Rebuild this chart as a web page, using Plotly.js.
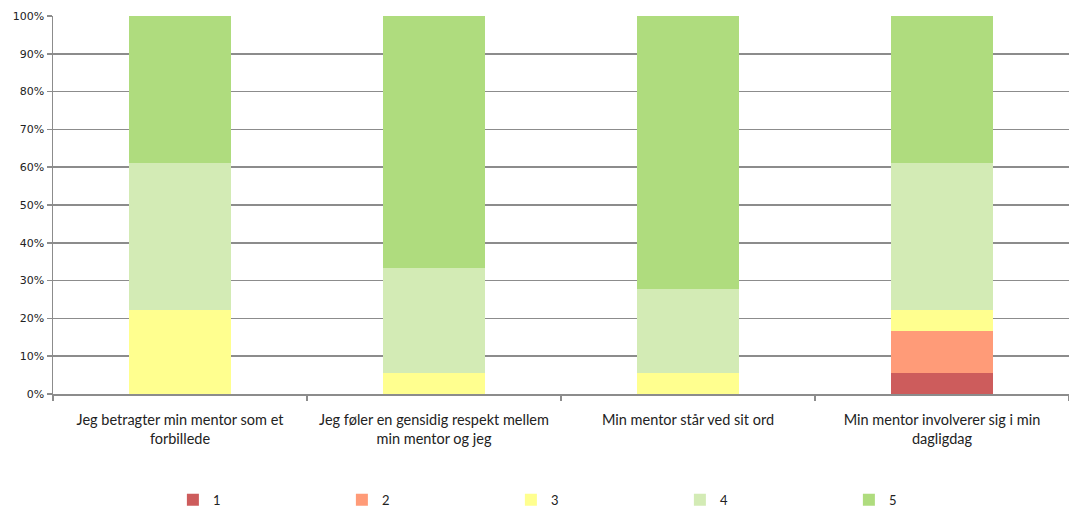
<!DOCTYPE html>
<html>
<head>
<meta charset="utf-8">
<script src="https://cdn.plot.ly/plotly-3.0.1.min.js"></script>
<style>html,body{margin:0;padding:0;background:#fff;}#chart{width:1069px;height:512px;}</style>
</head>
<body>
<div id="chart"></div>
<script>
const categories = [
  "Jeg betragter min mentor som et<br>forbillede",
  "Jeg føler en gensidig respekt mellem<br>min mentor og jeg",
  "Min mentor står ved sit ord",
  "Min mentor involverer sig i min<br>dagligdag"
];
const seriesNames = ["1", "2", "3", "4", "5"];
const s1 = [0, 0, 0, 0.056];
const s2 = [0, 0, 0, 0.111];
const s3 = [0.222, 0.056, 0.056, 0.056];
const s4 = [0.389, 0.278, 0.222, 0.389];
const s5 = [0.389, 0.666, 0.722, 0.388];
const colors = ["#CD5C5C", "#FF9B78", "#FFFF8F", "#D3EBB5", "#AFDC7E"];

const allSeries = [s1, s2, s3, s4, s5];
const traces = allSeries.map((vals, i) => ({
  type: "bar",
  name: seriesNames[i],
  x: categories,
  y: vals,
  marker: {color: colors[i], line: {width: 0}},
  hoverinfo: "x+y+name"
}));

const layout = {
  width: 1069, height: 512,
  margin: {l: 53, r: 0, t: 16, b: 118, autoexpand: false},
  barmode: "stack",
  bargap: 0.6,
  paper_bgcolor: "#fff",
  plot_bgcolor: "#fff",
  font: {family: "Lato, 'Open Sans', sans-serif", size: 14, color: "#222"},
  xaxis: {
    type: "category",
    showline: true, linecolor: "#8c8c8c", linewidth: 1.5,
    ticks: "outside", tickson: "boundaries", ticklen: 5, tickcolor: "#8c8c8c", tickwidth: 1.5,
    ticklabelstandoff: 12,
    tickfont: {family: "Lato, 'Open Sans', sans-serif", size: 14.5, color: "#222"},
    showgrid: false, zeroline: false, fixedrange: true
  },
  yaxis: {
    range: [0, 1], dtick: 0.1, tickformat: ".0%",
    showline: true, linecolor: "#8c8c8c", linewidth: 1.5,
    ticks: "outside", ticklen: 5, tickcolor: "#8c8c8c", tickwidth: 1.5,
    showgrid: true, gridcolor: "#8c8c8c", gridwidth: 1.5,
    zeroline: false,
    tickfont: {family: "'DejaVu Sans', Verdana, sans-serif", size: 11, color: "#222"},
    fixedrange: true
  },
  showlegend: true,
  legend: {
    orientation: "h", x: 0.118, xanchor: "left", y: -0.28, yanchor: "middle",
    entrywidth: 124, entrywidthmode: "pixels", traceorder: "normal",
    font: {family: "Lato, 'Open Sans', sans-serif", size: 13, color: "#222"}
  }
};

Plotly.newPlot("chart", traces, layout, {displayModeBar: false, staticPlot: true});
</script>
</body>
</html>
